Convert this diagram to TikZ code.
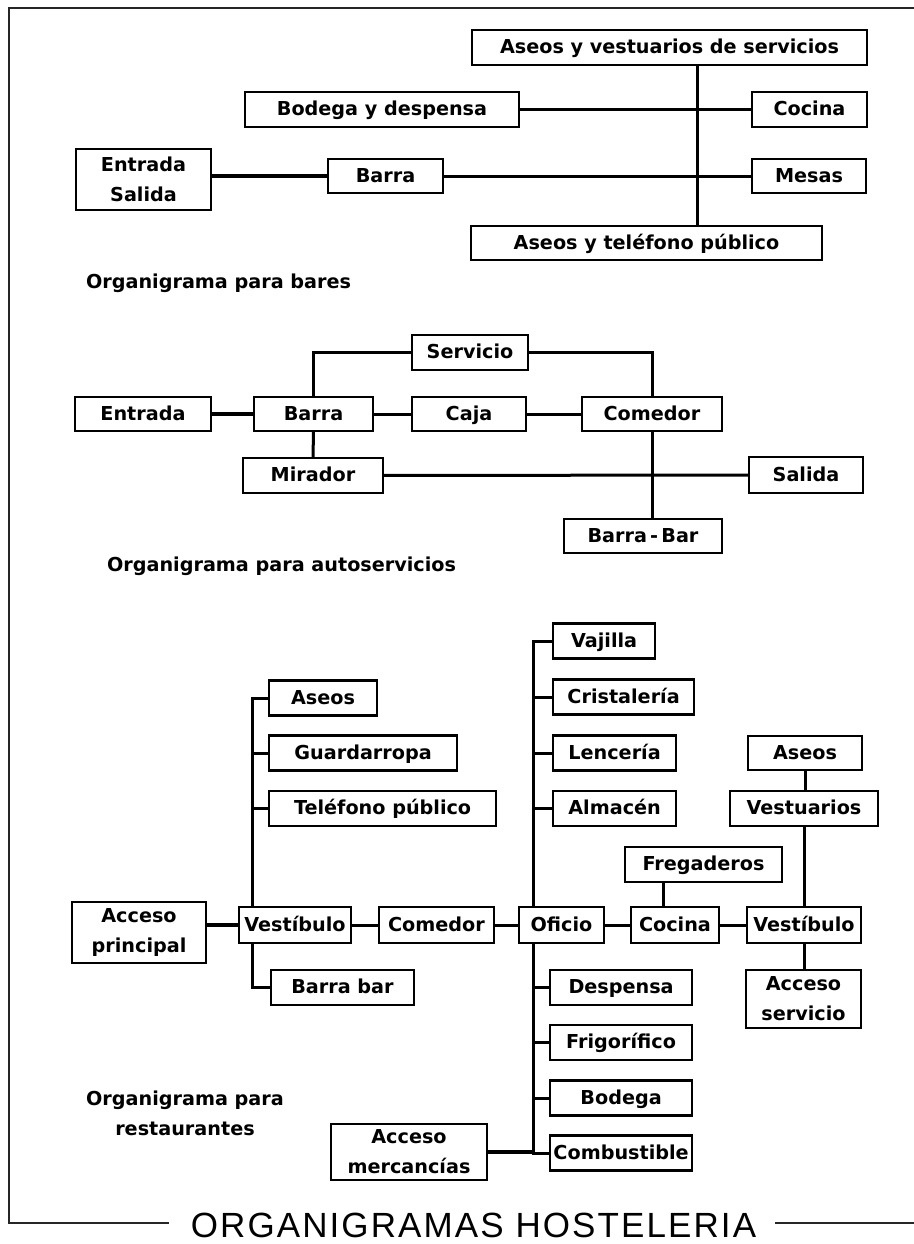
\documentclass[tikz,border=0pt]{standalone}
\usepackage{fontspec}
\setmainfont{DejaVu Sans}
\newfontfamily\fuentetitulo[LetterSpace=6]{Liberation Sans}
\begin{document}
\begin{tikzpicture}[x=0.5pt, y=-0.5pt,
  cajados/.style={draw, line width=1.1pt, inner xsep=1pt, inner ysep=0pt, minimum height=17.5pt, align=center, font=\fontsize{9.6}{15}\selectfont\bfseries},
  caja/.style={cajados, text height=7pt, text depth=1pt},
  linea/.style={line width=1.5pt},
  rotulo/.style={font=\fontsize{9.6}{15}\selectfont\bfseries, align=center}]
  \useasboundingbox (0,0) rectangle (914,1244);
  % marco y titulo
  \draw[line width=0.8pt, black!85] (914,8) -- (9,8) -- (9,1223) -- (169,1223);
  \draw[line width=0.8pt, black!85] (775,1223) -- (914,1223);
  \node (titulo) at (473.5,1225) {\fuentetitulo\fontsize{17.5}{17.5}\selectfont ORGANIGRAMAS HOSTELERIA};

  % organigrama para bares
  \node[caja, minimum width=197.5pt] (asvest) at (669.5,47.5) {Aseos y vestuarios de servicios};
  \node[caja, minimum width=137pt] (bodegaB) at (382,109.5) {Bodega y despensa};
  \node[caja, minimum width=57.5pt] (cocinaB) at (809.5,109.5) {Cocina};
  \node[cajados, minimum width=67.5pt, minimum height=30.5pt] (entsal) at (143.5,179.5) {Entrada\\Salida};
  \node[caja, minimum width=57.5pt, minimum height=17pt] (barraB) at (385.5,176) {Barra};
  \node[caja, minimum width=57pt, minimum height=17pt] (mesas) at (809,176) {Mesas};
  \node[caja, minimum width=175.5pt, minimum height=17pt] (astel) at (646.5,243) {Aseos y teléfono público};
  \coordinate (ejeB) at (697,0);
  \draw[linea] (asvest.south -| ejeB) -- (astel.north -| ejeB);
  \draw[linea] (bodegaB) -- (cocinaB);
  \draw[linea, line width=2pt] (entsal.east |- barraB) -- (barraB.west);
  \draw[linea] (barraB) -- (mesas);
  \node[rotulo, anchor=west] (lblbares) at (79,283) {Organigrama para bares};

  % organigrama para autoservicios
  \node[caja, minimum width=58pt] (servicio) at (470,352.5) {Servicio};
  \node[caja, minimum width=68pt, minimum height=17pt] (entrada) at (143,414) {Entrada};
  \node[caja, minimum width=59.5pt, minimum height=17pt] (barraA) at (313.5,414) {Barra};
  \node[caja, minimum width=57pt, minimum height=17pt] (caja) at (469,414) {Caja};
  \node[caja, minimum width=70pt, minimum height=17pt] (comedorA) at (652,414) {Comedor};
  \node[caja, minimum width=70pt] (mirador) at (313,475.5) {Mirador};
  \node[caja, minimum width=57pt, minimum height=18pt] (salida) at (806,475) {Salida};
  \node[caja, minimum width=79pt, minimum height=17pt] (barrabar) at (643,536) {Barra\,-\,Bar};
  \draw[linea] (servicio.west) -| (barraA.north);
  \draw[linea] (servicio.east) -| (comedorA.north);
  \draw[linea, line width=2.2pt] (entrada) -- (barraA);
  \draw[linea] (barraA) -- (caja) -- (comedorA);
  \draw[linea] (barraA) -- (mirador);
  \draw[linea] (mirador) -- (salida);
  \draw[linea] (comedorA.south) -- (comedorA.south |- barrabar.north);
  \node[rotulo, anchor=west] (lblauto) at (100,566) {Organigrama para autoservicios};

  % organigrama para restaurantes
  \node[cajados, minimum width=67pt, minimum height=30.5pt] (accP) at (139,932.5) {Acceso\\principal};
  \node[caja, minimum width=56pt, minimum height=18pt] (vestL) at (295,925) {Vestíbulo};
  \node[caja, minimum width=57.5pt, minimum height=18pt] (comR) at (436.5,925) {Comedor};
  \node[caja, minimum width=42.5pt, minimum height=18pt] (oficio) at (561.5,925) {Oficio};
  \node[caja, minimum width=44pt, minimum height=18pt] (cocinaR) at (675,925) {Cocina};
  \node[caja, minimum width=57pt, minimum height=18pt] (vestR) at (804,925) {Vestíbulo};
  \node[caja, minimum width=71.5pt] (barbar) at (342.5,987.5) {Barra bar};
  \node[caja, minimum width=78.5pt] (fregs) at (703.5,864.5) {Fregaderos};
  \node[caja, minimum width=57pt, minimum height=17pt] (aseR) at (805,753) {Aseos};
  \node[caja, minimum width=74pt] (vestu) at (804,808.5) {Vestuarios};
  \node[cajados, minimum width=57.5pt, minimum height=29pt] (accS) at (803.5,999) {Acceso\\servicio};
  \node[cajados, minimum width=78pt, minimum height=28pt] (merc) at (409,1152) {Acceso\\mercancías};

  \coordinate (espL) at (252,0);
  \foreach \n/\t/\w/\y in {aseL/Aseos/108/698, guard/Guardarropa/188/753, telef/Teléfono público/227/808.5} {
    \node[caja, anchor=west, minimum width=\w*0.5pt] (\n) at (268,\y) {\t};
    \draw[linea] (\n.west) -- (\n.west -| espL);
  }
  \draw[linea] (aseL.west) -| (vestL.north -| espL);
  \draw[linea] (vestL.south -| espL) |- (barbar.west);

  \coordinate (espO) at (533,0);
  \foreach \n/\t/\w/\y in {vaj/Vajilla/102/641, cri/Cristalería/141/697, len/Lencería/123/753, alm/Almacén/123/808.5} {
    \node[caja, anchor=west, minimum width=\w*0.5pt] (\n) at (552,\y) {\t};
    \draw[linea] (\n.west) -- (\n.west -| espO);
  }
  \foreach \n/\t/\y in {des/Despensa/987.5, fri/Frigorífico/1042.5, bod/Bodega/1098, comb/Combustible/1153} {
    \node[caja, anchor=west, minimum width=71pt] (\n) at (549,\y) {\t};
    \draw[linea] (\n.west) -- (\n.west -| espO);
  }
  \draw[linea] (vaj.west) -| (oficio.north -| espO);
  \draw[linea] (oficio.south -| espO) |- (comb.west);
  \draw[linea, line width=2.2pt] (merc.east) -- (merc.east -| espO);

  \draw[linea, line width=2.2pt] (accP.east |- vestL) -- (vestL.west);
  \draw[linea] (vestL) -- (comR) -- (oficio) -- (cocinaR) -- (vestR);
  \draw[linea] ([xshift=-6pt]cocinaR.north) -- ([xshift=-6pt]cocinaR.north |- fregs.south);
  \draw[linea] (aseR.south) -- (aseR.south |- vestu.north);
  \draw[linea] (vestu.south) -- (vestu.south |- vestR.north);
  \draw[linea] (vestR.south) -- (vestR.south |- accS.north);
  \node[rotulo] (lblrest) at (185,1113) {Organigrama para\\restaurantes};
\end{tikzpicture}
\end{document}
